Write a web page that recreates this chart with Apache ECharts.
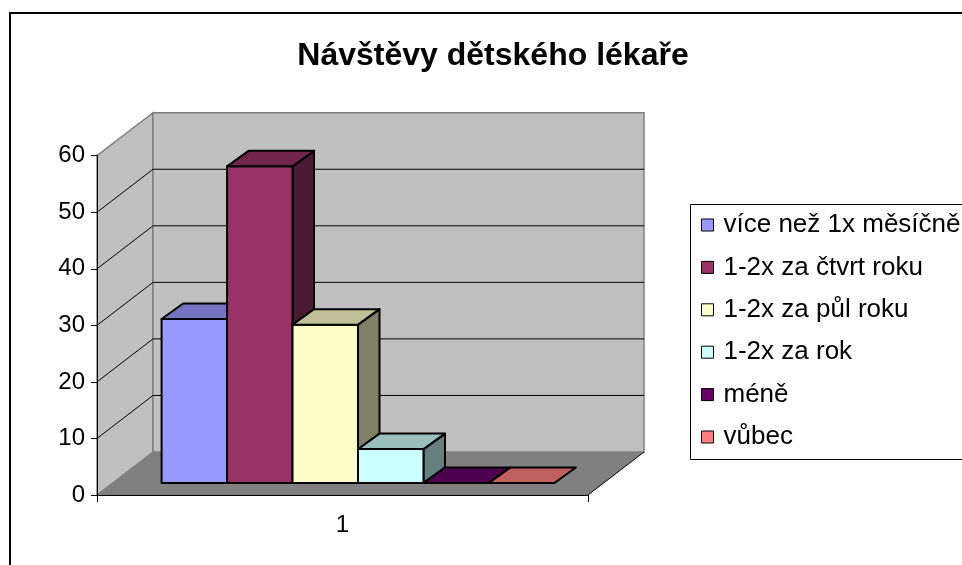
<!DOCTYPE html>
<html lang="cs">
<head>
    <meta charset="UTF-8">
    <title>Návštěvy dětského lékaře</title>
    <script src="https://cdn.jsdelivr.net/npm/echarts@6/dist/echarts.min.js"></script>
    <style type="text/css">
        html, body { margin: 0; padding: 0; background: #ffffff; }
        #chart { width: 962px; height: 565px; }
    </style>
</head>
<body>
<div id="chart"></div>
<script type="text/javascript">
    // data
    var categories = ['1'];
    var seriesNames = ['více než 1x měsíčně', '1-2x za čtvrt roku', '1-2x za půl roku', '1-2x za rok', 'méně', 'vůbec'];
    var seriesValues = [29, 56, 28, 6, 0, 0];
    var yTicks = [0, 10, 20, 30, 40, 50, 60];

    var colors = ['#9999ff', '#993366', '#ffffcc', '#ccffff', '#660066', '#ff8080'];
    var FONT = 'Liberation Sans, Arial, sans-serif';

    // fake 3d: depth of the whole box and of the bars, in px
    var DEPTH = [56, -43];
    var BAR_FRONT = [15.5, -12];
    var BAR_DEPTH = [21.5, -15.5];

    function shade(hex, k) {
        var n = parseInt(hex.slice(1), 16);
        var r = Math.round(((n >> 16) & 255) * k);
        var g = Math.round(((n >> 8) & 255) * k);
        var b = Math.round((n & 255) * k);
        return 'rgb(' + r + ',' + g + ',' + b + ')';
    }

    // side wall, back wall, floor and the grid lines on the walls
    function renderWalls(params, api) {
        var bw = api.size([1, 0])[0];
        var c0 = api.coord([0, yTicks[0]]);
        var cTop = api.coord([0, yTicks[yTicks.length - 1]]);
        var xl = c0[0] - bw / 2, xr = c0[0] + bw / 2;
        var yb = c0[1], yt = cTop[1];
        var dx = DEPTH[0], dy = DEPTH[1];
        var children = [];
        children.push({
            type: 'polygon',
            shape: {points: [[xl, yb], [xl, yt], [xl + dx, yt + dy], [xl + dx, yb + dy]]},
            style: {fill: '#c0c0c0', stroke: '#808080', lineWidth: 1.5}
        });
        children.push({
            type: 'rect',
            shape: {x: xl + dx, y: yt + dy, width: bw, height: yb - yt},
            style: {fill: '#c0c0c0', stroke: '#808080', lineWidth: 1.5}
        });
        children.push({
            type: 'polygon',
            shape: {points: [[xl, yb], [xl + dx, yb + dy], [xr + dx, yb + dy], [xr, yb]]},
            style: {fill: '#808080'}
        });
        for (var i = 1; i < yTicks.length - 1; i++) {
            var y = api.coord([0, yTicks[i]])[1];
            children.push({
                type: 'polyline',
                shape: {points: [[xl, y], [xl + dx, y + dy], [xr + dx, y + dy]]},
                style: {stroke: '#000000', lineWidth: 1, fill: null}
            });
        }
        children.push({
            type: 'line',
            shape: {x1: xr, y1: yb, x2: xr + dx, y2: yb + dy},
            style: {stroke: '#000000', lineWidth: 1}
        });
        return {type: 'group', children: children};
    }

    function makeBarRender(idx) {
        return function (params, api) {
            var cat = api.value(0);
            var base = api.coord([cat, 0]);
            var top = api.coord([cat, api.value(1)]);
            var bw = api.size([1, 0])[0];
            var groupW = bw * 0.8;
            var barW = groupW / seriesNames.length;
            var x0 = base[0] - groupW / 2 + idx * barW + BAR_FRONT[0];
            var x1 = x0 + barW;
            var yb = base[1] + BAR_FRONT[1];
            var yt = top[1] + BAR_FRONT[1];
            var dx = BAR_DEPTH[0], dy = BAR_DEPTH[1];
            var c = colors[idx];
            var edge = {stroke: '#000000', lineWidth: 2, lineJoin: 'round'};
            var children = [];
            if (yb - yt > 0.5) {
                children.push({
                    type: 'polygon',
                    shape: {points: [[x1, yt], [x1 + dx, yt + dy], [x1 + dx, yb + dy], [x1, yb]]},
                    style: Object.assign({fill: shade(c, 0.5)}, edge)
                });
                children.push({
                    type: 'rect',
                    shape: {x: x0, y: yt, width: barW, height: yb - yt},
                    style: Object.assign({fill: c}, edge)
                });
            }
            children.push({
                type: 'polygon',
                shape: {points: [[x0, yt], [x0 + dx, yt + dy], [x1 + dx, yt + dy], [x1, yt]]},
                style: Object.assign({fill: shade(c, 0.75)}, edge)
            });
            return {type: 'group', children: children};
        };
    }

    var series = [{
        type: 'custom',
        name: 'walls',
        z: 1,
        silent: true,
        clip: false,
        renderItem: renderWalls,
        data: [[0, 0]]
    }];
    for (var i = 0; i < seriesNames.length; i++) {
        series.push({
            type: 'custom',
            name: seriesNames[i],
            z: 2 + i,
            clip: false,
            itemStyle: {color: colors[i]},
            encode: {x: 0, y: 1},
            renderItem: makeBarRender(i),
            data: [[0, seriesValues[i]]]
        });
    }

    var myChart = echarts.init(document.getElementById('chart'));
    var option = {
        animation: false,
        color: colors,
        title: {
            text: 'Návštěvy dětského lékaře',
            left: 488,
            top: 35,
            textAlign: 'center',
            textStyle: {fontFamily: FONT, fontSize: 32, fontWeight: 'bold', color: '#000000'}
        },
        grid: {left: 97, right: 374, top: 155.7, bottom: 70},
        xAxis: {
            type: 'category',
            data: categories,
            z: 10,
            axisLine: {lineStyle: {color: '#000000', width: 1}},
            axisTick: {show: true, length: 7, lineStyle: {color: '#000000'}},
            axisLabel: {margin: 18, fontFamily: FONT, fontSize: 24, color: '#000000'},
            splitLine: {show: false}
        },
        yAxis: {
            type: 'value',
            min: 0,
            max: 60,
            interval: 10,
            z: 10,
            axisLine: {show: true, lineStyle: {color: '#000000', width: 1}},
            axisTick: {show: true, length: 6, lineStyle: {color: '#000000'}},
            axisLabel: {margin: 12, fontFamily: FONT, fontSize: 24, color: '#000000'},
            splitLine: {show: false}
        },
        legend: {
            data: seriesNames,
            orient: 'vertical',
            left: 701,
            top: 212,
            padding: 0,
            itemWidth: 12,
            itemHeight: 12,
            itemGap: 16.4,
            icon: 'rect',
            itemStyle: {borderColor: '#000000', borderWidth: 1},
            textStyle: {fontFamily: FONT, fontSize: 26, lineHeight: 26, color: '#000000', padding: [0, 0, 0, 5]}
        },
        graphic: [
            {
                type: 'rect',
                shape: {x: 10, y: 13, width: 1000, height: 600},
                style: {fill: null, stroke: '#000000', lineWidth: 2},
                silent: true
            },
            {
                type: 'rect',
                shape: {x: 690.5, y: 204.5, width: 300, height: 255},
                style: {fill: null, stroke: '#000000', lineWidth: 1},
                silent: true
            }
        ],
        series: series
    };
    myChart.setOption(option);
</script>
</body>
</html>
